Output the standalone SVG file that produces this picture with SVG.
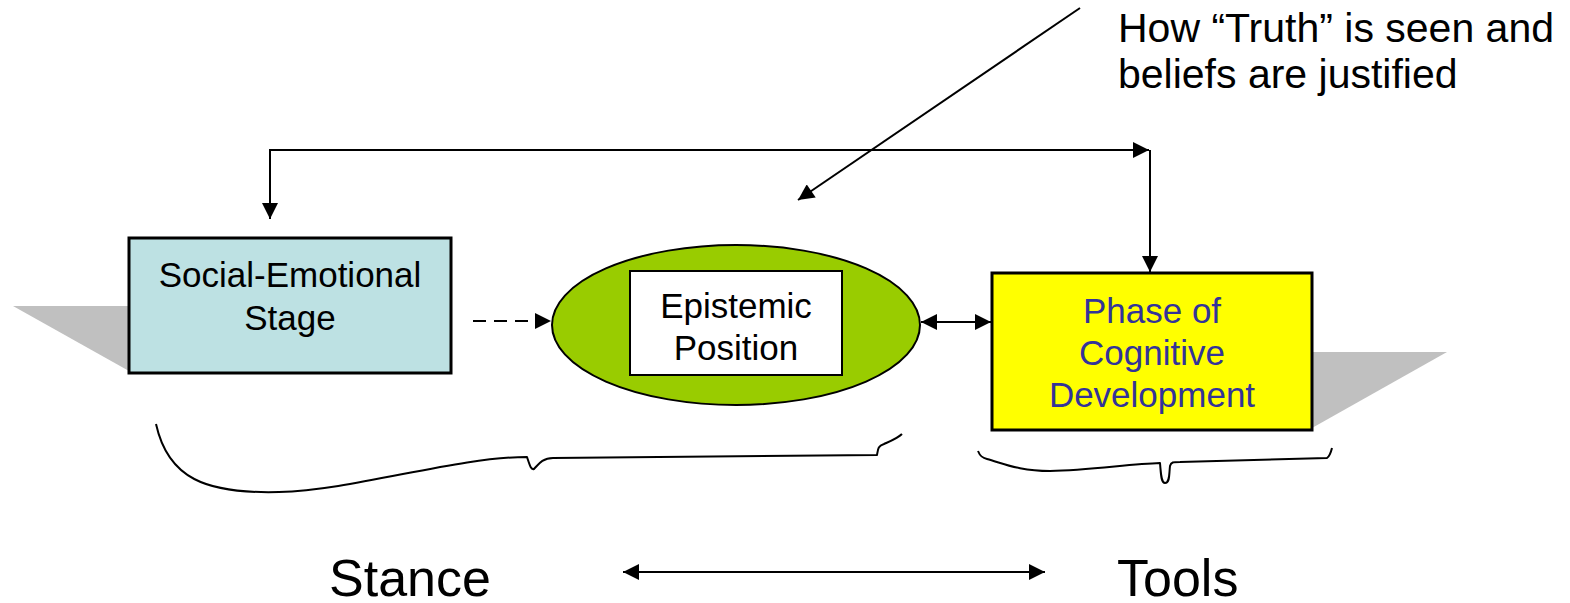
<svg xmlns="http://www.w3.org/2000/svg" width="1570" height="603" viewBox="0 0 1570 603">
  <style>
    .lbl { font-family: "Liberation Sans", Arial, sans-serif; font-size: 35px; text-anchor: middle; fill: #000; }
    .note { font-family: "Liberation Sans", Arial, sans-serif; font-size: 41px; fill: #000; }
    .big { font-family: "Liberation Sans", Arial, sans-serif; font-size: 52px; fill: #000; }
    .shadow { fill: #C0C0C0; }
    .line { fill: none; stroke: #000; stroke-width: 2; }
    .brace { fill: none; stroke: #000; stroke-width: 2; stroke-linejoin: round; }
  </style>
  <defs>
    <marker id="tipL" viewBox="0 0 10 10" refX="10" refY="5" markerWidth="17" markerHeight="16" markerUnits="userSpaceOnUse" orient="auto-start-reverse">
      <path d="M0,0 L10,5 L0,10 z" fill="#000"/>
    </marker>
  </defs>

  <!-- projected shadows behind the two boxes -->
  <polygon class="shadow" points="13,306 129,306 129,371"/>
  <polygon class="shadow" points="1312,352 1447,352 1312,428"/>

  <g id="social-emotional-stage">
    <rect x="129" y="238" width="322" height="135" fill="#BDE1E3" stroke="#000" stroke-width="3"/>
    <text class="lbl" x="290" y="287">Social-Emotional</text>
    <text class="lbl" x="290" y="330">Stage</text>
  </g>

  <g id="epistemic-position">
    <ellipse cx="736" cy="325" rx="184" ry="80" fill="#99CC00" stroke="#000" stroke-width="2"/>
    <rect x="630" y="271" width="212" height="104" fill="#FFFFFF" stroke="#000" stroke-width="2"/>
    <text class="lbl" x="736" y="318">Epistemic</text>
    <text class="lbl" x="736" y="360">Position</text>
  </g>

  <g id="cognitive-development">
    <rect x="992" y="273" width="320" height="157" fill="#FFFF00" stroke="#000" stroke-width="3"/>
    <text class="lbl" x="1152" y="323" style="fill:#333399">Phase of</text>
    <text class="lbl" x="1152" y="365" style="fill:#333399">Cognitive</text>
    <text class="lbl" x="1152" y="407" style="fill:#333399">Development</text>
  </g>

  <g id="truth-note">
    <text class="note" x="1118" y="42">How “Truth” is seen and</text>
    <text class="note" x="1118" y="88">beliefs are justified</text>
  </g>

  <g id="stance-label">
    <text class="big" x="329" y="596">Stance</text>
  </g>
  <g id="tools-label">
    <text class="big" x="1117" y="596">Tools</text>
  </g>

  <g id="connectors">
    <!-- feedback loop over the top -->
    <path class="line" d="M270,219 V150 H1149" marker-start="url(#tipL)" marker-end="url(#tipL)"/>
    <path class="line" d="M1150,150 V272" marker-end="url(#tipL)"/>
    <!-- note pointer -->
    <path class="line" d="M1080,8 L798,200" marker-end="url(#tipL)"/>
    <!-- stage to position, dashed -->
    <path class="line" d="M473,321 H551" stroke-dasharray="13,8" marker-end="url(#tipL)"/>
    <!-- position to phase -->
    <path class="line" d="M921,322 H991" marker-start="url(#tipL)" marker-end="url(#tipL)"/>
    <!-- stance to tools -->
    <path class="line" d="M623,572 H1045" stroke-width="3" marker-start="url(#tipL)" marker-end="url(#tipL)"/>
    <!-- braces -->
    <path class="brace" d="M156,424 C168,478 205,494 279,492 C355,490 455,457 527,457 C530,466 531,470 534,469 C538,465 542,458 553,458 L877,455 C878,449 878,446 884,444 C893,440 898,438 902,434"/>
    <path class="brace" d="M978,451 C980,456 982,458 987,459 C1005,464 1020,471 1050,471 C1090,470 1130,464 1160,463 C1161,474 1161,483 1165,483 C1170,483 1169,474 1170,466 C1171,462 1173,462 1180,462 L1327,458 C1330,456 1331,452 1332,448"/>
  </g>
</svg>
